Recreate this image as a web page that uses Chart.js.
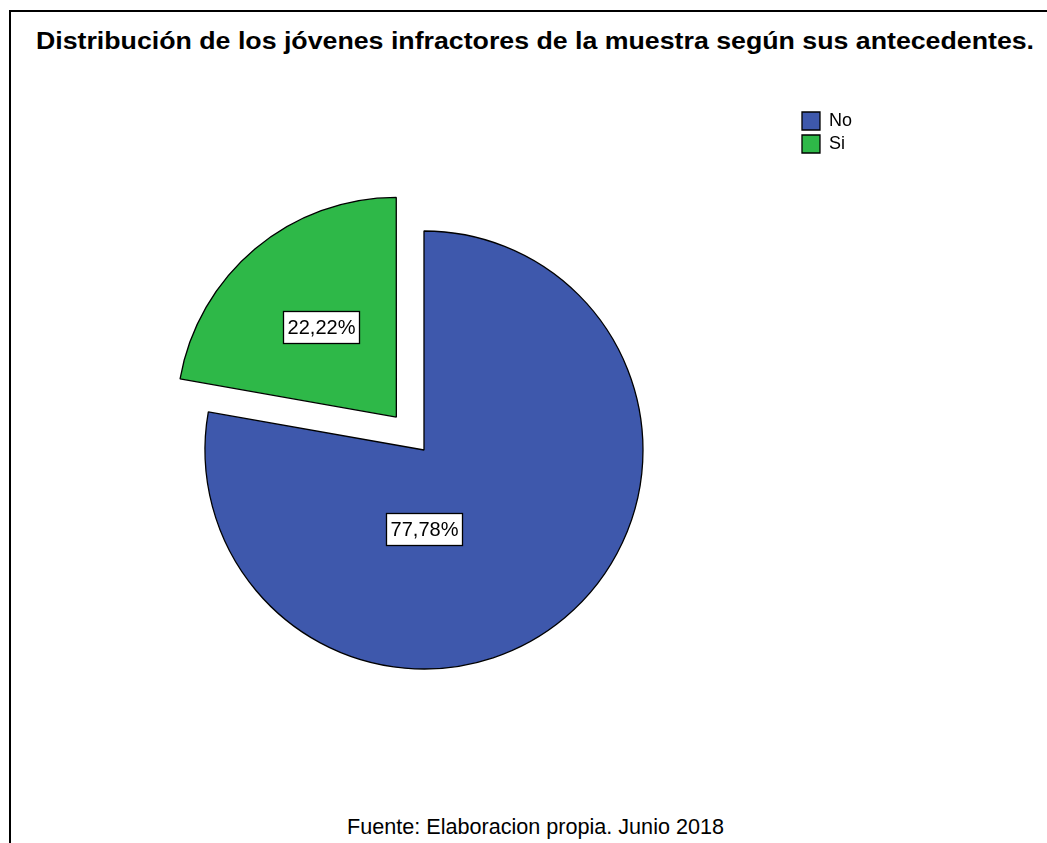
<!DOCTYPE html>
<html lang="es">
<head>
<meta charset="utf-8">
<title>Antecedentes de los jóvenes infractores</title>
<script src="https://cdn.jsdelivr.net/npm/chart.js@4.4.1/dist/chart.umd.min.js"></script>
<style>
  html, body { margin: 0; padding: 0; background: #fff; overflow: hidden; }
  body { width: 1047px; height: 843px; position: relative; font-family: "Liberation Sans", Arial, sans-serif; color: #000; }
  .marco { position: absolute; left: 9px; top: 10px; width: 1100px; height: 831px; border-top: 2px solid #000; border-left: 2px solid #000; }
  .titulo { position: absolute; left: 535px; top: 28px; transform: translateX(-50%) scaleX(1.162); white-space: nowrap; font-weight: bold; font-size: 23px; }
  .fuente { position: absolute; left: 535.5px; top: 814px; transform: translateX(-50%); white-space: nowrap; font-size: 21.6px; }
  #grafico { position: absolute; left: 51px; top: 107px; }
</style>
</head>
<body>
<div class="marco"></div>
<div class="titulo">Distribución de los jóvenes infractores de la muestra según sus antecedentes.</div>
<canvas id="grafico" width="811" height="686"></canvas>
<div class="fuente">Fuente: Elaboracion propia. Junio 2018</div>

<script>
// Antecedentes de la muestra (porcentaje)
const categorias = ['No', 'Si'];
const porcentajes = [77.78, 22.22];
const colores = ['#3E58AC', '#2EB848'];
// desplazamiento del sector "Si" (Chart.js v4 traslada el arco offset/4 px)
const separacion = [0, 172];

const FUENTE = '"Liberation Sans", Arial, sans-serif';

// Etiquetas con el porcentaje en recuadro blanco sobre cada sector
const etiquetasSectores = {
    id: 'etiquetasSectores',
    afterDatasetsDraw(chart, args, opts) {
        const ctx = chart.ctx;
        const meta = chart.getDatasetMeta(0);
        ctx.save();
        ctx.font = '20px ' + FUENTE;
        ctx.textAlign = 'center';
        ctx.textBaseline = 'middle';
        meta.data.forEach((arc, i) => {
            const p = arc.getProps(['x', 'y', 'startAngle', 'endAngle', 'outerRadius']);
            const mitad = (p.startAngle + p.endAngle) / 2;
            const desp = (arc.options.offset || 0) / 4;
            const conf = opts.colocacion[i] || {};
            const ang = conf.angulo !== undefined ? conf.angulo : mitad;
            const cx = p.x + Math.cos(mitad) * desp + Math.cos(ang) * p.outerRadius * conf.fraccion;
            const cy = p.y + Math.sin(mitad) * desp + Math.sin(ang) * p.outerRadius * conf.fraccion;

            const texto = porcentajes[i].toFixed(2).replace('.', ',') + '%';
            const w = Math.round(ctx.measureText(texto).width) + 8;
            const h = 32;
            const x0 = Math.round(cx - w / 2) + 0.5;
            const y0 = Math.round(cy - h / 2) + 0.5;
            ctx.fillStyle = '#fff';
            ctx.fillRect(x0, y0, w, h);
            ctx.lineWidth = 1.3;
            ctx.strokeStyle = '#000';
            ctx.strokeRect(x0, y0, w, h);
            ctx.fillStyle = '#000';
            ctx.fillText(texto, x0 + w / 2, y0 + h / 2 + 1);
        });
        ctx.restore();
    }
};

new Chart(document.getElementById('grafico'), {
    type: 'pie',
    data: {
        labels: categorias,
        datasets: [{
            data: porcentajes,
            backgroundColor: colores,
            borderColor: '#000',
            borderWidth: 1.3,
            offset: separacion,
            hoverOffset: 0
        }]
    },
    options: {
        responsive: false,
        animation: false,
        radius: 219,
        layout: { padding: 0 },
        plugins: {
            legend: {
                position: 'right',
                align: 'start',
                labels: {
                    boxWidth: 18,
                    boxHeight: 18,
                    padding: 5,
                    color: '#000',
                    font: { family: FUENTE, size: 18 }
                }
            },
            tooltip: { enabled: false },
            etiquetasSectores: {
                colocacion: [
                    { angulo: Math.PI / 2, fraccion: 0.36 },
                    { fraccion: 0.535 }
                ]
            }
        }
    },
    plugins: [etiquetasSectores]
});
</script>
</body>
</html>
